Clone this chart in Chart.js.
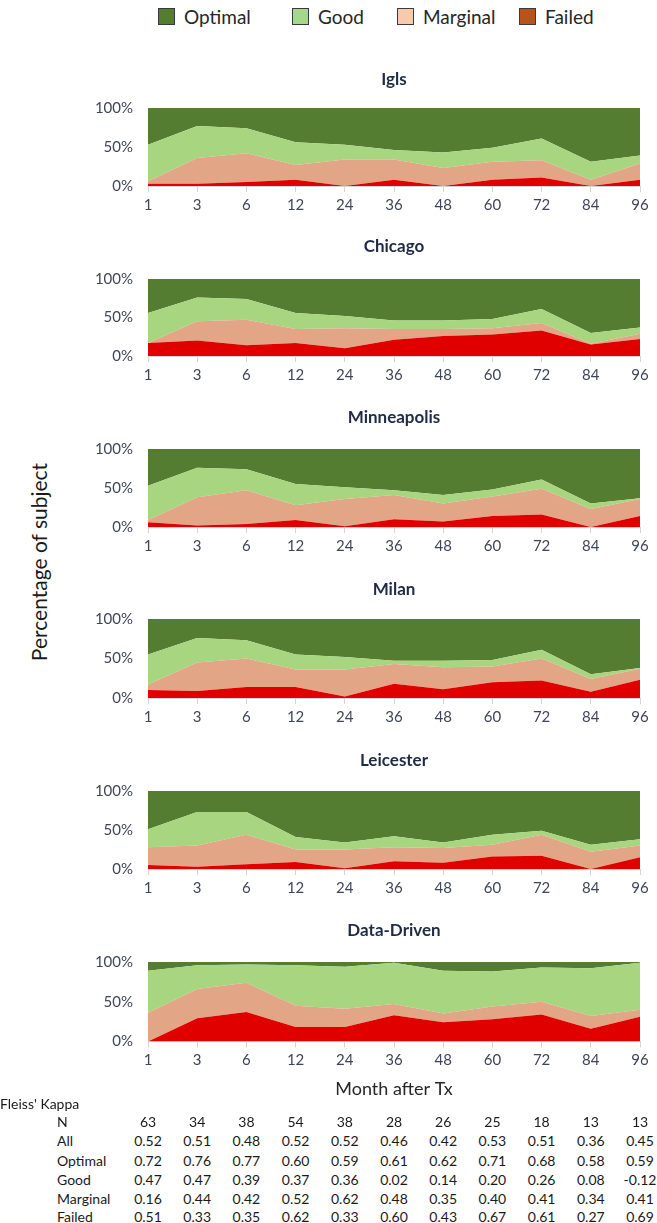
<!DOCTYPE html>
<html>
<head>
<meta charset="utf-8">
<title>Rating distribution by site</title>
<script src="https://cdn.jsdelivr.net/npm/chart.js@4.4.1/dist/chart.umd.min.js"></script>
<style>
  html, body { margin: 0; padding: 0; background: #fff; }
  #page { position: relative; width: 657px; height: 1223px; overflow: hidden; font-family: Lato, 'Open Sans', sans-serif; }
  #page canvas { position: absolute; left: 0; }
  .lg { position: absolute; top: 6px; height: 20px; display: flex; align-items: center; font-size: 19px; color: #262626; white-space: nowrap; }
  .lg .box { width: 15px; height: 15px; border: 1.5px solid #3a3a3a; margin-right: 9px; flex: none; }
  #ytitle { position: absolute; left: 38px; top: 562px; transform: translate(-50%, -50%) rotate(-90deg); font-size: 21px; color: #1a1a1a; white-space: nowrap; }
  .tx { position: absolute; font-size: 14px; color: #1a1a1a; white-space: nowrap; transform: translateY(-50%); }
  .num { transform: translate(-50%, -50%); }
</style>
</head>
<body>
<div id="page">
  <div id="legend"></div>
  <div id="ytitle">Percentage of subject</div>
</div>
<script>
// months after transplant (x categories)
const MONTHS = ['1', '3', '6', '12', '24', '36', '48', '60', '72', '84', '96'];
// stacking order, bottom to top
const CATEGORIES = ['Failed', 'Marginal', 'Good', 'Optimal'];
const Y_TICKS = [0, 50, 100];

// percent of subjects per rating
const IGLS_FAILED   = [3, 3, 5, 8, 0, 8, 0, 8, 11, 0, 8];
const IGLS_MARGINAL = [3, 33, 37, 19, 34, 26, 23, 23, 22, 8, 21];
const IGLS_GOOD     = [47, 41, 32, 29, 19, 12, 20, 18, 28, 23, 10];
const IGLS_OPTIMAL  = [47, 23, 26, 44, 47, 54, 57, 51, 39, 69, 61];

const CHICAGO_FAILED   = [17, 20, 14, 17, 10, 21, 26, 28, 33, 15, 22];
const CHICAGO_MARGINAL = [0, 25, 33, 18, 26, 14, 9, 8, 10, 1, 7];
const CHICAGO_GOOD     = [39, 31, 27, 21, 16, 11, 11, 12, 18, 14, 8];
const CHICAGO_OPTIMAL  = [44, 24, 26, 44, 48, 54, 54, 52, 39, 70, 63];

const MINNEAPOLIS_FAILED   = [6, 2, 4, 9, 1, 10, 7, 14, 16, 0, 14];
const MINNEAPOLIS_MARGINAL = [3, 36, 43, 19, 35, 31, 23, 25, 33, 23, 22];
const MINNEAPOLIS_GOOD     = [44, 38, 27, 27, 15, 6, 11, 9, 12, 7, 1];
const MINNEAPOLIS_OPTIMAL  = [47, 24, 26, 45, 49, 53, 59, 52, 39, 70, 63];

const MILAN_FAILED   = [10, 9, 14, 14, 2, 18, 11, 20, 22, 8, 23];
const MILAN_MARGINAL = [7, 36, 36, 22, 34, 25, 28, 20, 28, 16, 14];
const MILAN_GOOD     = [38, 31, 23, 19, 16, 4, 8, 8, 11, 6, 1];
const MILAN_OPTIMAL  = [45, 24, 27, 45, 48, 53, 53, 52, 39, 70, 62];

const LEICESTER_FAILED   = [5, 3, 6, 9, 1, 10, 8, 16, 17, 0, 15];
const LEICESTER_MARGINAL = [23, 27, 38, 16, 24, 18, 19, 15, 27, 22, 15];
const LEICESTER_GOOD     = [23, 43, 29, 16, 9, 14, 7, 13, 5, 9, 8];
const LEICESTER_OPTIMAL  = [49, 27, 27, 59, 66, 58, 66, 56, 51, 69, 62];

const DD_FAILED   = [0, 29, 37, 18, 18, 33, 24, 28, 34, 16, 31];
const DD_MARGINAL = [36, 37, 37, 27, 23, 14, 11, 16, 16, 16, 9];
const DD_GOOD     = [53, 30, 23, 51, 53, 52, 54, 44, 43, 60, 59];
const DD_OPTIMAL  = [11, 4, 3, 4, 6, 1, 11, 12, 7, 8, 1];

// Fleiss' kappa table under the last panel
const KAPPA_ROWS     = ['N', 'All', 'Optimal', 'Good', 'Marginal', 'Failed'];
const KAPPA_N        = [63, 34, 38, 54, 38, 28, 26, 25, 18, 13, 13];
const KAPPA_ALL      = [0.52, 0.51, 0.48, 0.52, 0.52, 0.46, 0.42, 0.53, 0.51, 0.36, 0.45];
const KAPPA_OPTIMAL  = [0.72, 0.76, 0.77, 0.60, 0.59, 0.61, 0.62, 0.71, 0.68, 0.58, 0.59];
const KAPPA_GOOD     = [0.47, 0.47, 0.39, 0.37, 0.36, 0.02, 0.14, 0.20, 0.26, 0.08, -0.12];
const KAPPA_MARGINAL = [0.16, 0.44, 0.42, 0.52, 0.62, 0.48, 0.35, 0.40, 0.41, 0.34, 0.41];
const KAPPA_FAILED   = [0.51, 0.33, 0.35, 0.62, 0.33, 0.60, 0.43, 0.67, 0.61, 0.27, 0.69];

const AREA_COLORS   = ['#e00000', '#e2a686', '#a8d580', '#557d32'];
const LEGEND_COLORS = ['#b9531c', '#f7caac', '#a6d88a', '#557d32'];
const TEXT_COLOR  = '#3f4656';
const TITLE_COLOR = '#1f2a44';
const FONT = 'Lato, "Open Sans", sans-serif';

const SITES = [
  { name: 'Igls',        series: [IGLS_FAILED, IGLS_MARGINAL, IGLS_GOOD, IGLS_OPTIMAL] },
  { name: 'Chicago',     series: [CHICAGO_FAILED, CHICAGO_MARGINAL, CHICAGO_GOOD, CHICAGO_OPTIMAL] },
  { name: 'Minneapolis', series: [MINNEAPOLIS_FAILED, MINNEAPOLIS_MARGINAL, MINNEAPOLIS_GOOD, MINNEAPOLIS_OPTIMAL] },
  { name: 'Milan',       series: [MILAN_FAILED, MILAN_MARGINAL, MILAN_GOOD, MILAN_OPTIMAL] },
  { name: 'Leicester',   series: [LEICESTER_FAILED, LEICESTER_MARGINAL, LEICESTER_GOOD, LEICESTER_OPTIMAL] },
  { name: 'Data-Driven', series: [DD_FAILED, DD_MARGINAL, DD_GOOD, DD_OPTIMAL] },
];

// where each panel sits on the page: title centre, plot top (100%), plot bottom (0%)
const PANEL_POS = [
  { title: 79,  top: 108, bottom: 186 },
  { title: 246, top: 279, bottom: 356 },
  { title: 417, top: 449, bottom: 527 },
  { title: 589, top: 619, bottom: 698 },
  { title: 760, top: 791, bottom: 869 },
  { title: 930, top: 962, bottom: 1041 },
];

const page = document.getElementById('page');

// legend (top to bottom order as in the figure)
const LEGEND_X = [158, 292, 397, 519];
['Optimal', 'Good', 'Marginal', 'Failed'].forEach((name, i) => {
  const idx = CATEGORIES.indexOf(name);
  const el = document.createElement('div');
  el.className = 'lg';
  el.style.left = LEGEND_X[i] + 'px';
  el.innerHTML = '<span class="box" style="background:' + LEGEND_COLORS[idx] + '"></span>' + name;
  document.getElementById('legend').appendChild(el);
});

const TITLE_SIZE = 17;
const AXIS_H = 32;

function makePanel(site, pos, isLast) {
  const canvas = document.createElement('canvas');
  const canvasTop = pos.title - 11;
  const titleBottomPad = pos.top - canvasTop - 1 - TITLE_SIZE * 1.2;
  const height = (isLast ? 1100 : pos.bottom + AXIS_H) - canvasTop;
  canvas.width = 657;
  canvas.height = height;
  canvas.style.top = canvasTop + 'px';
  page.appendChild(canvas);

  return new Chart(canvas, {
    type: 'line',
    data: {
      labels: MONTHS,
      datasets: site.series.map((vals, i) => ({
        label: CATEGORIES[i],
        data: vals,
        backgroundColor: AREA_COLORS[i],
        borderWidth: 0,
        pointRadius: 0,
        tension: 0,
        fill: i === 0 ? 'origin' : '-1',
      }))
    },
    options: {
      responsive: false,
      animation: false,
      layout: { padding: { left: 0, right: 17, top: 0, bottom: 0 } },
      plugins: {
        legend: { display: false },
        tooltip: { enabled: false },
        title: {
          display: true,
          text: site.name,
          fullSize: false,
          color: TITLE_COLOR,
          font: { family: FONT, size: TITLE_SIZE, weight: 'bold', lineHeight: 1.2 },
          padding: { top: 1, bottom: titleBottomPad }
        }
      },
      scales: {
        x: {
          grid: { drawOnChartArea: false, drawTicks: true, tickLength: 6, color: '#d4d4d4' },
          border: { display: true, color: '#d4d4d4' },
          ticks: { color: TEXT_COLOR, font: { family: FONT, size: 15 }, padding: 4, maxRotation: 0, autoSkip: false },
          title: {
            display: isLast,
            text: 'Month after Tx',
            color: '#262626',
            font: { family: FONT, size: 18, lineHeight: 1.2 },
            padding: { top: 5, bottom: 0 }
          }
        },
        y: {
          stacked: true,
          min: Y_TICKS[0],
          max: Y_TICKS[Y_TICKS.length - 1],
          afterFit: s => { s.width = 148; },
          afterBuildTicks: s => { s.ticks = Y_TICKS.map(v => ({ value: v })); },
          grid: { display: false, drawTicks: false },
          border: { display: false },
          ticks: { color: TEXT_COLOR, font: { family: FONT, size: 15 }, padding: 15, callback: v => v + '%' }
        }
      }
    }
  });
}

let lastChart = null;
SITES.forEach((site, i) => {
  lastChart = makePanel(site, PANEL_POS[i], i === SITES.length - 1);
});

// Fleiss' kappa table, columns lined up with the month ticks of the last panel
function addText(text, x, y, cls) {
  const el = document.createElement('div');
  el.className = cls;
  el.textContent = text;
  el.style.left = x + 'px';
  el.style.top = y + 'px';
  page.appendChild(el);
}

addText("Fleiss' Kappa", 0, 1103, 'tx');
const KAPPA_VALUES = [KAPPA_N, KAPPA_ALL, KAPPA_OPTIMAL, KAPPA_GOOD, KAPPA_MARGINAL, KAPPA_FAILED];
const ROW_Y = [1121, 1140, 1160, 1179, 1198, 1216];
const xScale = lastChart.scales.x;
KAPPA_ROWS.forEach((row, r) => {
  addText(row, 57, ROW_Y[r], 'tx');
  KAPPA_VALUES[r].forEach((v, c) => {
    const txt = r === 0 ? String(v) : v.toFixed(2);
    addText(txt, xScale.getPixelForValue(c), ROW_Y[r], 'tx num');
  });
});
</script>
</body>
</html>
